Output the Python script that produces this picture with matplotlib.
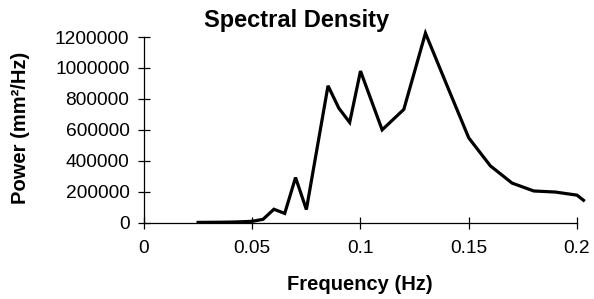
import matplotlib.pyplot as plt

plt.rcParams['font.family'] = ['Liberation Sans', 'DejaVu Sans']

# spectral density
freq = [0.025, 0.03, 0.035, 0.04, 0.045, 0.05, 0.055, 0.06, 0.065, 0.07, 0.075,
        0.085, 0.09, 0.095, 0.1, 0.11, 0.12, 0.13, 0.14, 0.15, 0.16, 0.17,
        0.18, 0.19, 0.2, 0.203]
power = [2000, 2500, 3000, 4000, 6000, 9000, 22000, 87000, 60000, 292000, 85000,
         885000, 740000, 648000, 980000, 600000, 732000, 1225000, 885000, 548000,
         367000, 256000, 205000, 198000, 178000, 145000]

xticks = [0, 0.05, 0.1, 0.15, 0.2]
xticklabels = ['0', '0.05', '0.1', '0.15', '0.2']
yticks = [0, 200000, 400000, 600000, 800000, 1000000, 1200000]

fig = plt.figure(figsize=(5.94, 2.99), dpi=100)
ax = fig.add_axes([0.2424, 0.2552, 0.729, 0.621])

ax.plot(freq, power, color='black', lw=2.3, clip_on=False, solid_joinstyle='miter')

ax.set_xlim(0, 0.2)
ax.set_ylim(0, 1200000)
ax.set_xticks(xticks)
ax.set_xticklabels(xticklabels)
ax.set_yticks(yticks)
ax.set_yticklabels([str(v) for v in yticks])

for s in ['top', 'right']:
    ax.spines[s].set_visible(False)
for s in ['left', 'bottom']:
    ax.spines[s].set_linewidth(0.9)

ax.tick_params(axis='both', direction='inout', length=9, width=0.9, labelsize=13.8)
ax.tick_params(axis='x', pad=8)
ax.tick_params(axis='y', pad=6)

fig.text(0.5, 1 - 21 / 299, 'Spectral Density', ha='center', va='center',
         fontsize=17, fontweight='bold')
fig.text(0.606, 1 - 285 / 299, 'Frequency (Hz)', ha='center', va='center',
         fontsize=14.5, fontweight='bold')
fig.text(21 / 594, 1 - 128 / 299, 'Power (mm²/Hz)', ha='center', va='center',
         rotation=90, fontsize=14.5, fontweight='bold')

fig.savefig('out.png', dpi=100)
